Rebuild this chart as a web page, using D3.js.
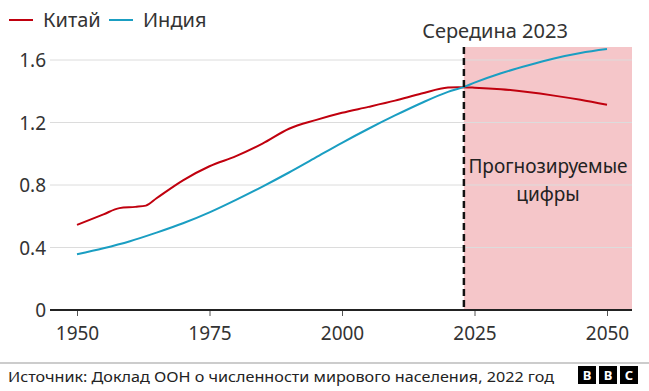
<!DOCTYPE html>
<html>
<head>
<meta charset="utf-8">
<script src="https://cdn.jsdelivr.net/npm/d3@7"></script>
<style>
  body { margin: 0; background: #fff; }
  svg { font-family: "Noto Sans", "Open Sans", sans-serif; display: block; }
</style>
</head>
<body>
<div id="chart"></div>
<script>
// population, billions (UN WPP 2022)
const chinaYears = [1950, 1955, 1958, 1961, 1963, 1965, 1970, 1975, 1980, 1985, 1990, 1995, 2000, 2005, 2010, 2015, 2020, 2022, 2025, 2030, 2035, 2040, 2045, 2050]
const chinaValues = [0.545, 0.612, 0.652, 0.660, 0.668, 0.715, 0.830, 0.920, 0.985, 1.065, 1.160, 1.215, 1.262, 1.300, 1.340, 1.385, 1.424, 1.426, 1.423, 1.413, 1.395, 1.372, 1.345, 1.313]
const indiaYears = [1950, 1955, 1960, 1965, 1970, 1975, 1980, 1985, 1990, 1995, 2000, 2005, 2010, 2015, 2020, 2023, 2025, 2030, 2035, 2040, 2045, 2050]
const indiaValues = [0.357, 0.395, 0.440, 0.495, 0.555, 0.625, 0.705, 0.790, 0.880, 0.975, 1.070, 1.160, 1.245, 1.325, 1.396, 1.428, 1.455, 1.515, 1.565, 1.610, 1.645, 1.670]
const xTicks = [1950, 1975, 2000, 2025, 2050]
const yTicks = [0, 0.4, 0.8, 1.2, 1.6]
const seriesNames = ['Китай', 'Индия']
const seriesColors = ['#c0000e', '#1a9ec2']
const projectionStart = 2023
const projectionLabel = ['Прогнозируемые', 'цифры']
const markerLabel = 'Середина 2023'
const sourceText = 'Источник: Доклад ООН о численности мирового населения, 2022 год'

const w = 649;
const h = 391;

const svg = d3.select('#chart')
              .append('svg')
              .attr('width', w)
              .attr('height', h);

const xScale = d3.scaleLinear()
                 .domain([1950, 2050])
                 .range([77, 607]);

const yScale = d3.scaleLinear()
                 .domain([0, 1.6])
                 .range([310, 60]);

const plotLeft = 50;
const plotRight = 632;
const plotTop = 47;

// projection shading
svg.append('rect')
   .attr('x', xScale(projectionStart))
   .attr('y', plotTop)
   .attr('width', plotRight - xScale(projectionStart))
   .attr('height', yScale(0) - plotTop)
   .attr('fill', '#f5c6c9');

// gridlines
svg.append('g')
   .selectAll('line')
   .data(yTicks.filter(d => d > 0))
   .enter()
   .append('line')
   .attr('x1', plotLeft)
   .attr('x2', plotRight)
   .attr('y1', d => yScale(d))
   .attr('y2', d => yScale(d))
   .attr('stroke', '#dcdcdc')
   .attr('stroke-width', 1);

// y labels
svg.append('g')
   .selectAll('text')
   .data(yTicks)
   .enter()
   .append('text')
   .attr('x', 46)
   .attr('y', d => yScale(d) + 7)
   .attr('text-anchor', 'end')
   .attr('font-size', 19)
   .attr('fill', '#333')
   .text(d => d === 0 ? '0' : d.toFixed(1));

// x axis
const xAxis = d3.axisBottom(xScale)
                .tickValues(xTicks)
                .tickFormat(d => d)
                .tickSize(6)
                .tickPadding(11);

const xg = svg.append('g')
              .attr('transform', `translate(0, ${yScale(0)})`)
              .call(xAxis);
xg.select('.domain').remove();
xg.selectAll('line').attr('stroke', '#555').attr('stroke-width', 1);
xg.selectAll('text').attr('font-size', 19).attr('fill', '#333').attr('font-family', '"Noto Sans", sans-serif');

svg.append('line')
   .attr('x1', plotLeft)
   .attr('x2', plotRight)
   .attr('y1', yScale(0))
   .attr('y2', yScale(0))
   .attr('stroke', '#222')
   .attr('stroke-width', 2);

// lines
const line = d3.line()
               .x(d => xScale(d[0]))
               .y(d => yScale(d[1]))
               .curve(d3.curveMonotoneX);

const series = [
    d3.zip(chinaYears, chinaValues),
    d3.zip(indiaYears, indiaValues)
];

svg.append('g')
   .selectAll('path')
   .data(series)
   .enter()
   .append('path')
   .attr('d', line)
   .attr('fill', 'none')
   .attr('stroke', (d, i) => seriesColors[i])
   .attr('stroke-width', 2);

// dashed marker
svg.append('line')
   .attr('x1', xScale(projectionStart))
   .attr('x2', xScale(projectionStart))
   .attr('y1', plotTop)
   .attr('y2', yScale(0))
   .attr('stroke', '#111')
   .attr('stroke-width', 2.5)
   .attr('stroke-dasharray', '7,4');

svg.append('text')
   .attr('x', 495)
   .attr('y', 38)
   .attr('text-anchor', 'middle')
   .attr('font-size', 20)
   .attr('fill', '#333')
   .text(markerLabel);

svg.append('text')
   .attr('y', 173)
   .attr('text-anchor', 'middle')
   .attr('font-size', 19)
   .attr('fill', '#222')
   .selectAll('tspan')
   .data(projectionLabel)
   .enter()
   .append('tspan')
   .attr('x', 548)
   .attr('dy', (d, i) => i === 0 ? 0 : 28)
   .text(d => d);

// legend
const legend = svg.append('g');
const legendX = [9, 109];
seriesNames.forEach((name, i) => {
    legend.append('line')
          .attr('x1', legendX[i])
          .attr('x2', legendX[i] + 24)
          .attr('y1', 20)
          .attr('y2', 20)
          .attr('stroke', seriesColors[i])
          .attr('stroke-width', 2);
    legend.append('text')
          .attr('x', legendX[i] + 34)
          .attr('y', 27)
          .attr('font-size', 20)
          .attr('fill', '#333')
          .text(name);
});

// footer
svg.append('line')
   .attr('x1', 0)
   .attr('x2', w)
   .attr('y1', 363)
   .attr('y2', 363)
   .attr('stroke', '#999')
   .attr('stroke-width', 1);

svg.append('text')
   .attr('x', 8)
   .attr('y', 382)
   .attr('font-size', 15)
   .attr('fill', '#222')
   .attr('textLength', 546)
   .attr('lengthAdjust', 'spacingAndGlyphs')
   .text(sourceText);

const logo = svg.append('g');
['B', 'B', 'C'].forEach((c, i) => {
    logo.append('rect')
        .attr('x', 578 + i * 21)
        .attr('y', 366)
        .attr('width', 18)
        .attr('height', 18)
        .attr('fill', '#000');
    logo.append('text')
        .attr('x', 587 + i * 21)
        .attr('y', 380)
        .attr('text-anchor', 'middle')
        .attr('font-size', 13)
        .attr('font-weight', 'bold')
        .attr('fill', '#fff')
        .text(c);
});
</script>
</body>
</html>
